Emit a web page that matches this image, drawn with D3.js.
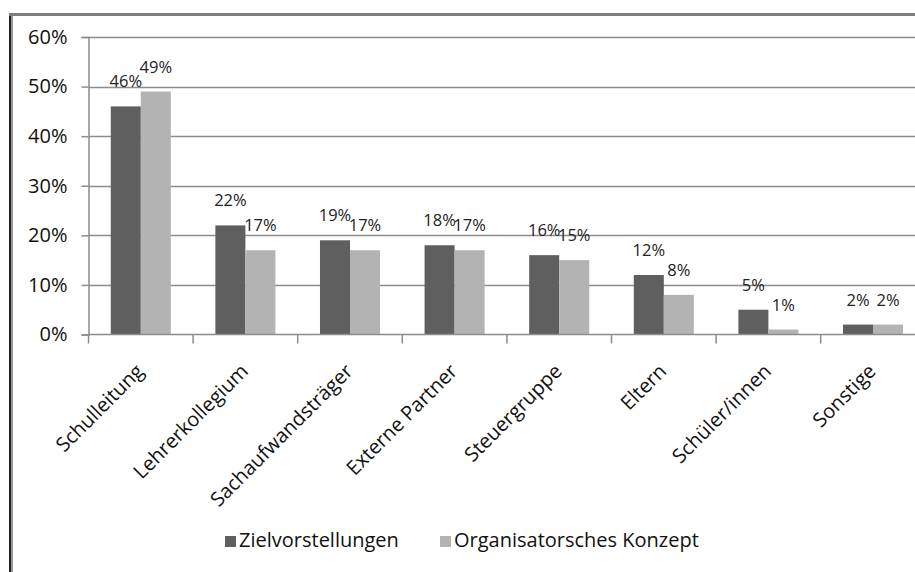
<!DOCTYPE html>
<html>
<head>
<meta charset="utf-8">
<script src="https://cdn.jsdelivr.net/npm/d3@7"></script>
<style>
  body { margin: 0; background: #fff; }
  svg { display: block; font-family: 'Open Sans', sans-serif; }
</style>
</head>
<body>
<svg id="chart" width="915" height="572"></svg>
<script>
'use strict';

const categories = ['Schulleitung', 'Lehrerkollegium', 'Sachaufwandsträger', 'Externe Partner',
  'Steuergruppe', 'Eltern', 'Schüler/innen', 'Sonstige'];
const seriesNames = ['Zielvorstellungen', 'Organisatorsches Konzept'];
const zielValues = [0.46, 0.22, 0.19, 0.18, 0.16, 0.12, 0.05, 0.02];
const orgValues = [0.49, 0.17, 0.17, 0.17, 0.15, 0.08, 0.01, 0.02];
const yTicks = [0, 0.1, 0.2, 0.3, 0.4, 0.5, 0.6];

const colors = ['#5f5f5f', '#b3b3b3'];
const svg = d3.select('#chart');

// plot area runs past the right edge like the original screenshot
const plotLeft = 88.5;
const plotRight = 925.3;
const plotTop = 37;
const plotBottom = 334.5;

const x0 = d3.scaleBand().domain(categories).range([plotLeft, plotRight])
  .paddingInner(0.426).paddingOuter(0.213);
const x1 = d3.scaleBand().domain(seriesNames).range([0, x0.bandwidth()]);
const y = d3.scaleLinear().domain([0, 0.6]).range([plotBottom, plotTop]);
const fmt = d3.format('.0%');

// frame
svg.append('line').attr('x1', 10).attr('x2', 10).attr('y1', 13).attr('y2', 572)
  .attr('stroke', '#222').attr('stroke-width', 2);
svg.append('line').attr('x1', 12).attr('x2', 12).attr('y1', 15).attr('y2', 572)
  .attr('stroke', '#999').attr('stroke-width', 2);
svg.append('line').attr('x1', 9).attr('x2', 915).attr('y1', 14.5).attr('y2', 14.5)
  .attr('stroke', '#7f7f7f').attr('stroke-width', 3);

// gridlines
svg.append('g')
  .selectAll('line')
  .data(yTicks.filter((d) => d > 0))
  .join('line')
  .attr('x1', plotLeft)
  .attr('x2', 915)
  .attr('y1', (d) => Math.round(y(d)) + 0.5)
  .attr('y2', (d) => Math.round(y(d)) + 0.5)
  .attr('stroke', '#8c8c8c')
  .attr('stroke-width', 1.5);

// y axis
const yAxis = svg.append('g')
  .attr('transform', `translate(${plotLeft},0)`)
  .call(d3.axisLeft(y).tickValues(yTicks).tickFormat(fmt).tickSize(7).tickPadding(14));
yAxis.select('.domain').attr('stroke', '#8c8c8c').attr('stroke-width', 1.5);
yAxis.selectAll('.tick line').attr('stroke', '#8c8c8c').attr('stroke-width', 1.5);
yAxis.selectAll('.tick text')
  .attr('font-size', 20)
  .attr('font-family', "'Open Sans', sans-serif")
  .attr('fill', '#111');

// bars
const groups = svg.append('g')
  .selectAll('g')
  .data(categories)
  .join('g')
  .attr('transform', (d) => `translate(${x0(d)},0)`);

const rows = (c, i) => [
  { key: seriesNames[0], value: zielValues[i] },
  { key: seriesNames[1], value: orgValues[i] },
];

groups.selectAll('rect')
  .data(rows)
  .join('rect')
  .attr('x', (d) => x1(d.key))
  .attr('y', (d) => y(d.value))
  .attr('width', x1.bandwidth())
  .attr('height', (d) => y(0) - y(d.value))
  .attr('fill', (d, i) => colors[i]);

groups.selectAll('text')
  .data(rows)
  .join('text')
  .attr('x', (d) => x1(d.key) + x1.bandwidth() / 2)
  .attr('y', (d) => y(d.value) - 19)
  .attr('text-anchor', 'middle')
  .attr('font-size', 16.5)
  .attr('fill', '#222')
  .text((d) => fmt(d.value));

// x axis
const xAxis = svg.append('g');
xAxis.append('line')
  .attr('x1', plotLeft).attr('x2', 915)
  .attr('y1', plotBottom).attr('y2', plotBottom)
  .attr('stroke', '#8c8c8c').attr('stroke-width', 1.5);
xAxis.selectAll('.xtick')
  .data(categories)
  .join('line')
  .attr('class', 'xtick')
  .attr('x1', (d) => x0(d) - x0.step() * 0.213)
  .attr('x2', (d) => x0(d) - x0.step() * 0.213)
  .attr('y1', plotBottom)
  .attr('y2', plotBottom + 9)
  .attr('stroke', '#8c8c8c')
  .attr('stroke-width', 1.5);
xAxis.selectAll('text')
  .data(categories)
  .join('text')
  .attr('text-anchor', 'end')
  .attr('font-size', 20)
  .attr('fill', '#111')
  .attr('transform', (d) => `translate(${x0(d) + x0.bandwidth() / 2 + 4},${plotBottom + 38}) rotate(-45)`)
  .text((d) => d);

// legend
const legend = svg.append('g')
  .selectAll('g')
  .data(seriesNames)
  .join('g')
  .attr('transform', (d, i) => `translate(${i === 0 ? 225 : 440},536)`);
legend.append('rect')
  .attr('width', 11)
  .attr('height', 11)
  .attr('fill', (d, i) => colors[i]);
legend.append('text')
  .attr('x', 14)
  .attr('y', 11)
  .attr('font-size', 20)
  .attr('fill', '#111')
  .text((d) => d);
</script>
</body>
</html>
